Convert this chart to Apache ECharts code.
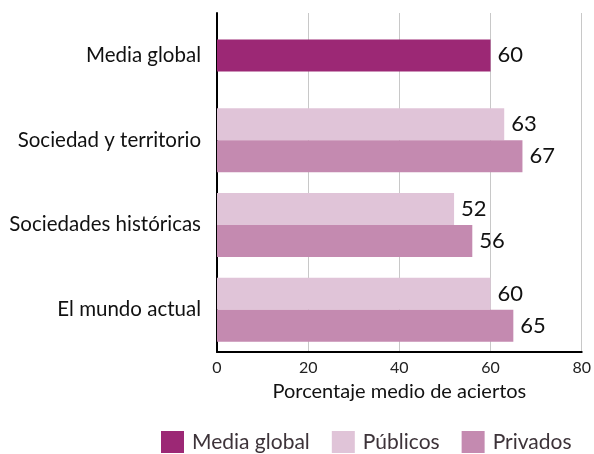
<!DOCTYPE html>
<html>
<head>
<meta charset="utf-8">
<script src="https://cdn.jsdelivr.net/npm/echarts@6/dist/echarts.min.js"></script>
<style>html,body{margin:0;padding:0;background:#fff}#c{width:594px;height:454px}</style>
</head>
<body>
<div id="c"></div>
<script>
const categories = ['Media global', 'Sociedad y territorio', 'Sociedades históricas', 'El mundo actual'];
const seriesNames = ['Media global', 'Públicos', 'Privados'];
const mediaGlobal = [60, '-', '-', '-'];
const publicos = ['-', 63, 52, 60];
const privados = ['-', 67, 56, 65];
const xTicks = { min: 0, max: 80, interval: 20 };
const axisTitle = 'Porcentaje medio de aciertos';

const FONT = 'Lato, "Noto Sans", sans-serif';
const chart = echarts.init(document.getElementById('c'), null, { renderer: 'canvas' });
const label = { show: true, position: 'right', distance: 7, color: '#111', fontSize: 22, fontFamily: FONT };
chart.setOption({
  animation: false,
  textStyle: { fontFamily: FONT },
  grid: { left: 217, right: 9, top: 13, bottom: 102 },
  legend: {
    left: 161, top: 431, padding: 0, itemWidth: 23, itemHeight: 22, itemGap: 22,
    icon: 'rect',
    textStyle: { fontSize: 21, color: '#3d3339', fontFamily: FONT, padding: [0, 0, 0, 3] },
    data: seriesNames
  },
  xAxis: {
    type: 'value', min: xTicks.min, max: xTicks.max, interval: xTicks.interval,
    axisLine: { show: true, lineStyle: { color: '#000', width: 2 } },
    axisTick: { show: false },
    splitLine: { show: true, lineStyle: { color: '#c8c8c8', width: 1 } },
    axisLabel: { fontSize: 16, color: '#222', margin: 8, fontFamily: FONT },
    name: axisTitle, nameLocation: 'middle', nameGap: 30,
    nameTextStyle: { fontSize: 20, color: '#111', fontFamily: FONT }
  },
  yAxis: [
    {
      type: 'category', data: categories, inverse: true,
      axisLine: { show: true, lineStyle: { color: '#000', width: 2 } },
      axisTick: { show: false },
      axisLabel: { fontSize: 20.5, color: '#111', margin: 16, fontFamily: FONT }
    },
    {
      type: 'category', data: categories, inverse: true, show: false
    }
  ],
  series: [
    { name: seriesNames[0], type: 'bar', yAxisIndex: 1, data: mediaGlobal, barWidth: 32,
      itemStyle: { color: '#9c2875' }, label },
    { name: seriesNames[1], type: 'bar', yAxisIndex: 0, data: publicos, barWidth: 32, barGap: '0%',
      itemStyle: { color: '#e0c4d8' }, label },
    { name: seriesNames[2], type: 'bar', yAxisIndex: 0, data: privados, barWidth: 32, barGap: '0%',
      itemStyle: { color: '#c48ab0' }, label }
  ]
});
</script>
</body>
</html>
